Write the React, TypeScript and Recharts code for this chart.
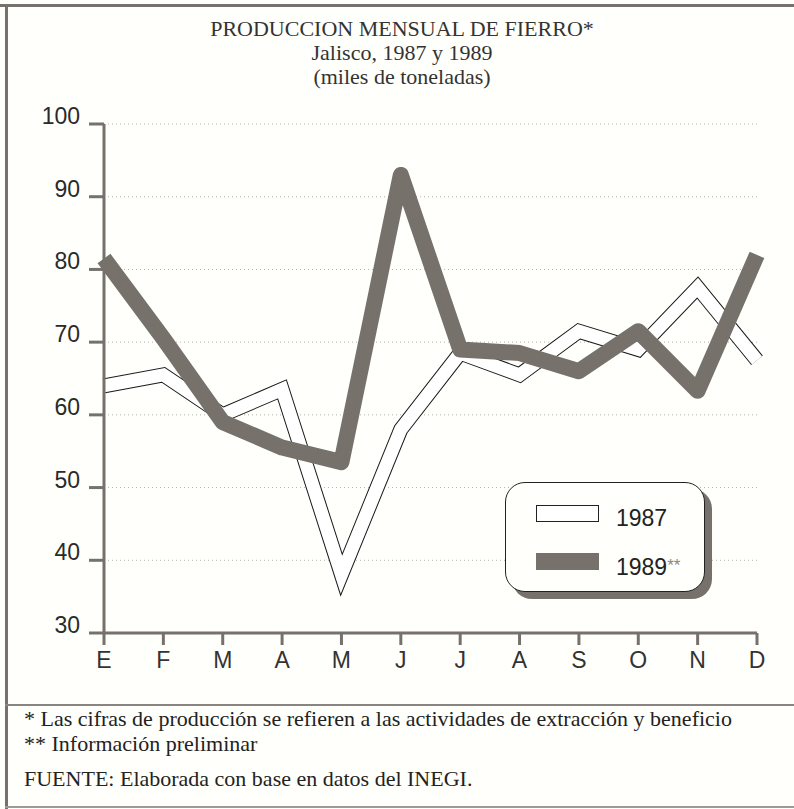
import React from 'react';
import { LineChart, Line, XAxis, YAxis, CartesianGrid, Legend } from 'recharts';

const meses = ['E', 'F', 'M', 'A', 'M', 'J', 'J', 'A', 'S', 'O', 'N', 'D'];
const valores1987 = [64, 65.5, 60, 63.5, 38, 58, 68.5, 65.5, 71.5, 69, 77.5, 67.5];
const valores1989 = [81.5, 70.5, 59, 55.5, 53.5, 93, 69, 68.5, 66, 71.5, 63.3, 82];
const yTicks = [30, 40, 50, 60, 70, 80, 90, 100];

const titulo = 'PRODUCCION MENSUAL DE FIERRO*';
const subtitulo = 'Jalisco, 1987 y 1989';
const unidades = '(miles de toneladas)';
const notas = [
  '* Las cifras de producción se refieren a las actividades de extracción y beneficio',
  '** Información preliminar',
];
const fuente = 'FUENTE: Elaborada con base en datos del INEGI.';

const GRIS = '#77716c';
const FONDO = '#fffffb';

const data = meses.map((mes, i) => ({ mes, a1987: valores1987[i], a1989: valores1989[i] }));

const XTick = (props: any) => {
  const { x, y, payload } = props;
  return (
    <text x={x} y={y + 21} textAnchor="middle" fontSize={23} fill="#333" fontFamily="'Liberation Sans', Arial, sans-serif">
      {payload.value}
    </text>
  );
};

const YTick = (props: any) => {
  const { x, y, payload } = props;
  return (
    <text x={x - 7} y={y} textAnchor="end" fontSize={23} fill="#2a2a2a" fontFamily="'Liberation Sans', Arial, sans-serif">
      {payload.value}
    </text>
  );
};

const CajaLeyenda = () => (
  <div
    style={{
      width: 200,
      height: 110,
      boxSizing: 'border-box',
      border: '1.5px solid #222',
      borderRadius: 20,
      background: FONDO,
      boxShadow: `7px 7px 0 ${GRIS}`,
      position: 'relative',
      fontFamily: "'Liberation Sans', Arial, sans-serif",
      fontSize: 23,
      color: '#222',
    }}
  >
    <div style={{ position: 'absolute', left: 30, top: 22, width: 63, height: 17, boxSizing: 'border-box', border: '1px solid #222', background: '#fff' }} />
    <div style={{ position: 'absolute', left: 110, top: 22, lineHeight: '26px' }}>1987</div>
    <div style={{ position: 'absolute', left: 30, top: 70, width: 63, height: 17, background: GRIS }} />
    <div style={{ position: 'absolute', left: 110, top: 70, lineHeight: '26px' }}>
      1989<span style={{ color: '#888', fontSize: 17, verticalAlign: 4 }}>**</span>
    </div>
  </div>
);

export default function App() {
  return (
    <div style={{ position: 'absolute', left: 0, top: 0, width: 794, height: 809, background: FONDO, overflow: 'hidden' }}>
      {/* marco */}
      <div style={{ position: 'absolute', left: 0, top: 4, width: 794, height: 3, background: GRIS }} />
      <div style={{ position: 'absolute', left: 5, top: 4, width: 3, height: 805, background: GRIS }} />
      <div style={{ position: 'absolute', left: 5, top: 704, width: 789, height: 2, background: '#8a8580' }} />
      <div style={{ position: 'absolute', left: 5, top: 806, width: 789, height: 2, background: '#a09a95' }} />

      <div style={{ position: 'absolute', left: 0, top: 17, width: 804, textAlign: 'center', fontFamily: "'Liberation Serif', 'Times New Roman', serif", color: '#333', fontSize: 22, lineHeight: '24px' }}>
        <div>{titulo}</div>
        <div>{subtitulo}</div>
        <div>{unidades}</div>
      </div>

      <div style={{ position: 'absolute', left: 0, top: 0 }}>
        <LineChart width={794} height={700} data={data} margin={{ top: 124, right: 37, bottom: 0, left: 0 }}>
          <CartesianGrid horizontal vertical={false} stroke="#b5b2aa" strokeDasharray="1 3" />
          <XAxis
            dataKey="mes"
            height={67}
            axisLine={{ stroke: GRIS, strokeWidth: 3 }}
            tickLine={{ stroke: GRIS, strokeWidth: 3 }}
            tickSize={12}
            tick={<XTick />}
            interval={0}
          />
          <YAxis
            width={104}
            domain={[30, 100]}
            ticks={yTicks}
            axisLine={{ stroke: GRIS, strokeWidth: 3 }}
            tickLine={{ stroke: GRIS, strokeWidth: 3 }}
            tickSize={15}
            tick={<YTick />}
          />
          <Legend
            layout="vertical"
            align="center"
            verticalAlign="middle"
            content={<CajaLeyenda />}
            wrapperStyle={{ position: 'absolute', left: 505, top: 482, width: 200, height: 110 }}
          />
          <Line type="linear" dataKey="a1987" name="1987" stroke="#1a1a1a" strokeWidth={15} dot={false} isAnimationActive={false} />
          <Line type="linear" dataKey="a1987" name="1987" stroke="#ffffff" strokeWidth={13} dot={false} legendType="none" isAnimationActive={false} />
          <Line type="linear" dataKey="a1989" name="1989**" stroke={GRIS} strokeWidth={16} strokeLinejoin="round" dot={false} isAnimationActive={false} />
        </LineChart>
      </div>

      <div style={{ position: 'absolute', left: 24, top: 706, fontFamily: "'Liberation Serif', 'Times New Roman', serif", color: '#222', fontSize: 22 }}>
        <div style={{ lineHeight: '25px' }}>{notas[0]}</div>
        <div style={{ lineHeight: '25px' }}>{notas[1]}</div>
        <div style={{ lineHeight: '25px', marginTop: 10 }}>{fuente}</div>
      </div>
    </div>
  );
}
